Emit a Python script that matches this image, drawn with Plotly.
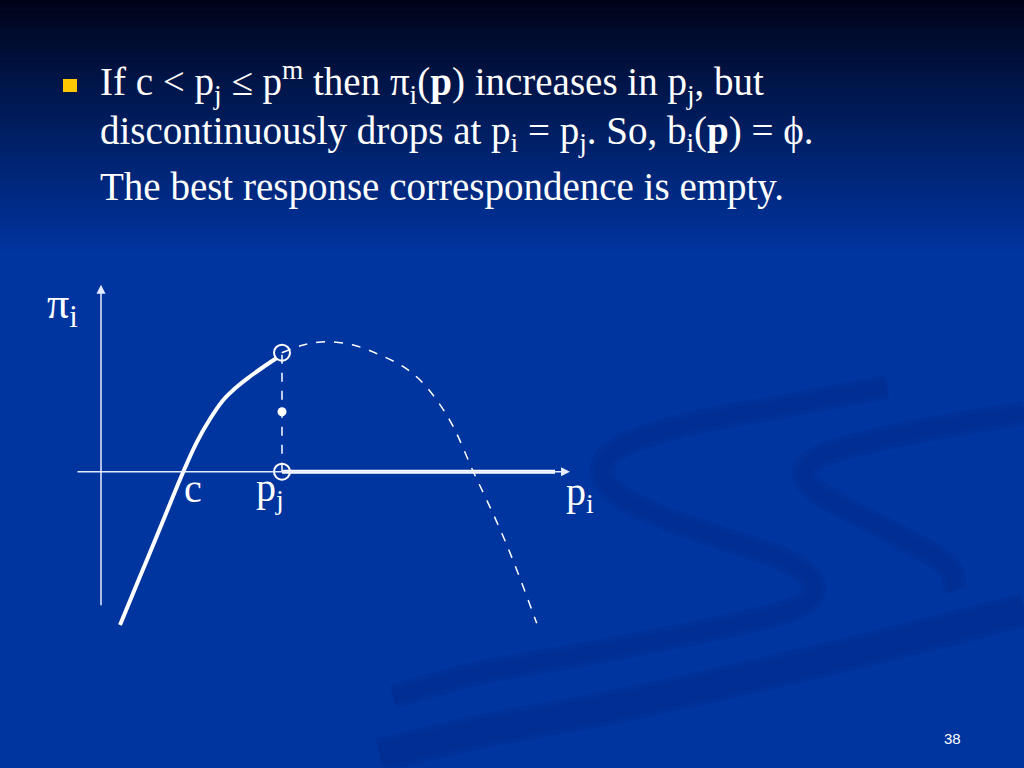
import plotly.graph_objects as go

W, H = 1024, 768

# Curve data (x: price p_i, y: profit pi_i), units
c = 8.2
p_j = 18.1

undercut_x = [1.9, 3.9, 5.9, 8.23, 9.57, 10.9, 12.23, 13.57, 14.9, 16.23, 17.57]
undercut_y = [-15.33, -10.49, -5.65, 0.0, 2.94, 5.27, 7.17, 8.47, 9.52, 10.47, 11.37]

monopoly_x = [18.07, 20.23, 22.57, 25.23, 27.9, 30.23, 31.9, 33.57, 35.23,
              37.23, 38.57, 40.23, 41.9, 43.57]
monopoly_y = [11.9, 12.67, 13.0, 12.67, 11.67, 10.5, 9.17, 7.17, 4.5,
              0.0, -2.83, -6.5, -10.66, -15.16]

top_y = 11.9        # open circle at p_i -> p_j from below
tie_y = 6.0         # shared profit at p_i = p_j
above_x = [18.1, 45.4]   # p_i > p_j: zero profit
above_y = [0.0, 0.0]

xaxis_span = [-2.5, 46.9]
yaxis_span = [-13.5, 18.7]

# Colours
BLUE = 'rgb(0,52,158)'
WHITE = 'white'
AXIS = '#e6ecff'
SERIF = 'Liberation Serif'

fig = go.Figure()

# Left branch: p_i < p_j (solid)
fig.add_trace(go.Scatter(x=undercut_x, y=undercut_y, mode='lines',
                         line=dict(color=WHITE, width=4, shape='spline', smoothing=1.0),
                         hoverinfo='skip'))
# Monopoly profit continuation (dashed)
fig.add_trace(go.Scatter(x=monopoly_x, y=monopoly_y, mode='lines',
                         line=dict(color=WHITE, width=1.5, dash='dash', shape='spline'),
                         hoverinfo='skip'))
# Vertical drop at p_j
fig.add_trace(go.Scatter(x=[p_j, p_j], y=[0, top_y], mode='lines',
                         line=dict(color=WHITE, width=1.5, dash='dash'),
                         hoverinfo='skip'))
# Right branch: p_i > p_j (solid, zero)
fig.add_trace(go.Scatter(x=above_x, y=above_y, mode='lines',
                         line=dict(color=WHITE, width=4), hoverinfo='skip'))
# Open circles
fig.add_trace(go.Scatter(x=[p_j, p_j], y=[top_y, 0], mode='markers',
                         marker=dict(symbol='circle-open', size=16, color=WHITE,
                                     line=dict(width=2, color=WHITE)),
                         hoverinfo='skip'))
# Filled dot (tie)
fig.add_trace(go.Scatter(x=[p_j], y=[tie_y], mode='markers',
                         marker=dict(size=9, color=WHITE), hoverinfo='skip'))

# Axes drawn as arrows
fig.add_annotation(x=xaxis_span[1], y=0, ax=xaxis_span[0], ay=0,
                   xref='x', yref='y', axref='x', ayref='y', text='',
                   showarrow=True, arrowhead=2, arrowsize=1.2, arrowwidth=1.5,
                   arrowcolor=AXIS)
fig.add_annotation(x=0, y=yaxis_span[1], ax=0, ay=yaxis_span[0],
                   xref='x', yref='y', axref='x', ayref='y', text='',
                   showarrow=True, arrowhead=2, arrowsize=1.2, arrowwidth=1.5,
                   arrowcolor=AXIS)


def px(x, y):
    return x / W, 1 - y / H


def label(text, x, y, size, family=SERIF, anchor='center'):
    lx, ly = px(x, y)
    fig.add_annotation(x=lx, y=ly, xref='paper', yref='paper', text=text,
                       showarrow=False, xanchor=anchor, yanchor='middle',
                       font=dict(family=family, size=size, color=WHITE))


# Axis labels
label('π<sub>i</sub>', 62, 306, 44)
label('c', 193, 488, 40)
label('p<sub>j</sub>', 270, 490, 40)
label('p<sub>i</sub>', 580, 494, 40)

# Slide text
label('If c &lt; p<sub>j</sub> ≤ p<sup>m</sup> then π<sub>i</sub>(<b>p</b>) increases in p<sub>j</sub>, but',
      98, 83, 39, anchor='left')
label('discontinuously drops at p<sub>i</sub> = p<sub>j</sub>. So, b<sub>i</sub>(<b>p</b>) = ϕ.',
      98, 133, 39, anchor='left')
label('The best response correspondence is empty.', 98, 187, 39, anchor='left')
label('38', 952, 738, 15, family='Liberation Sans')

shapes = []
# Dark-to-blue gradient at the top of the slide
top_rgb = (0, 3, 22)
bot_rgb = (0, 52, 158)
n = 60
for k in range(n):
    t = (k + 0.5) / n
    col = tuple(int(a + (b - a) * t ** 0.9) for a, b in zip(top_rgb, bot_rgb))
    y0, y1 = k * 250 / n, (k + 1) * 250 / n + 0.5
    shapes.append(dict(type='rect', xref='paper', yref='paper', layer='below',
                       x0=0, x1=1, y0=1 - y1 / H, y1=1 - y0 / H,
                       fillcolor='rgb(%d,%d,%d)' % col, line=dict(width=0)))


def smooth_path(pts):
    # Catmull-Rom through the points, written as cubic Beziers
    p = [px(x, y) for x, y in pts]
    d = 'M %.4f,%.4f' % p[0]
    for i in range(len(p) - 1):
        p0 = p[i - 1] if i > 0 else p[i]
        p1, p2 = p[i], p[i + 1]
        p3 = p[i + 2] if i + 2 < len(p) else p2
        c1 = (p1[0] + (p2[0] - p0[0]) / 6, p1[1] + (p2[1] - p0[1]) / 6)
        c2 = (p2[0] - (p3[0] - p1[0]) / 6, p2[1] - (p3[1] - p1[1]) / 6)
        d += ' C %.4f,%.4f %.4f,%.4f %.4f,%.4f' % (c1 + c2 + p2)
    return d


# Faint swooshes in the background (soft halo + core)
swooshes = [
    [(887, 387), (780, 407), (694, 423), (628, 443), (602, 466), (612, 490),
     (650, 512), (720, 538), (785, 560), (814, 585), (798, 607), (737, 624),
     (608, 650), (479, 673), (393, 697)],
    [(1024, 413), (909, 433), (828, 453), (804, 473), (822, 495), (887, 530),
     (945, 563), (955, 590)],
    [(1024, 610), (866, 650), (737, 680), (608, 708), (479, 732), (380, 755)],
]
widths = [14, 14, 24]
for pts, w in zip(swooshes, widths):
    path = smooth_path(pts)
    shapes.append(dict(type='path', xref='paper', yref='paper', layer='below',
                       path=path, line=dict(color='rgba(0,28,105,0.08)', width=w + 10)))
    shapes.append(dict(type='path', xref='paper', yref='paper', layer='below',
                       path=path, line=dict(color='rgba(0,28,105,0.13)', width=w)))

# Bullet
bx0, by0 = px(63, 92)
bx1, by1 = px(77, 79)
shapes.append(dict(type='rect', xref='paper', yref='paper', x0=bx0, x1=bx1,
                   y0=by0, y1=by1, fillcolor='#ffc800', line=dict(width=0)))

fig.update_layout(
    width=W, height=H,
    margin=dict(l=0, r=0, t=0, b=0),
    paper_bgcolor=BLUE,
    plot_bgcolor='rgba(0,0,0,0)',
    showlegend=False,
    xaxis=dict(visible=False, range=[-101 / 10, (W - 101) / 10], fixedrange=True),
    yaxis=dict(visible=False, range=[(471.7 - H) / 10, 471.7 / 10], fixedrange=True),
    shapes=shapes,
)

fig.write_html('out.html', config={'displayModeBar': False},
               post_script="document.body.style.margin='0';")
